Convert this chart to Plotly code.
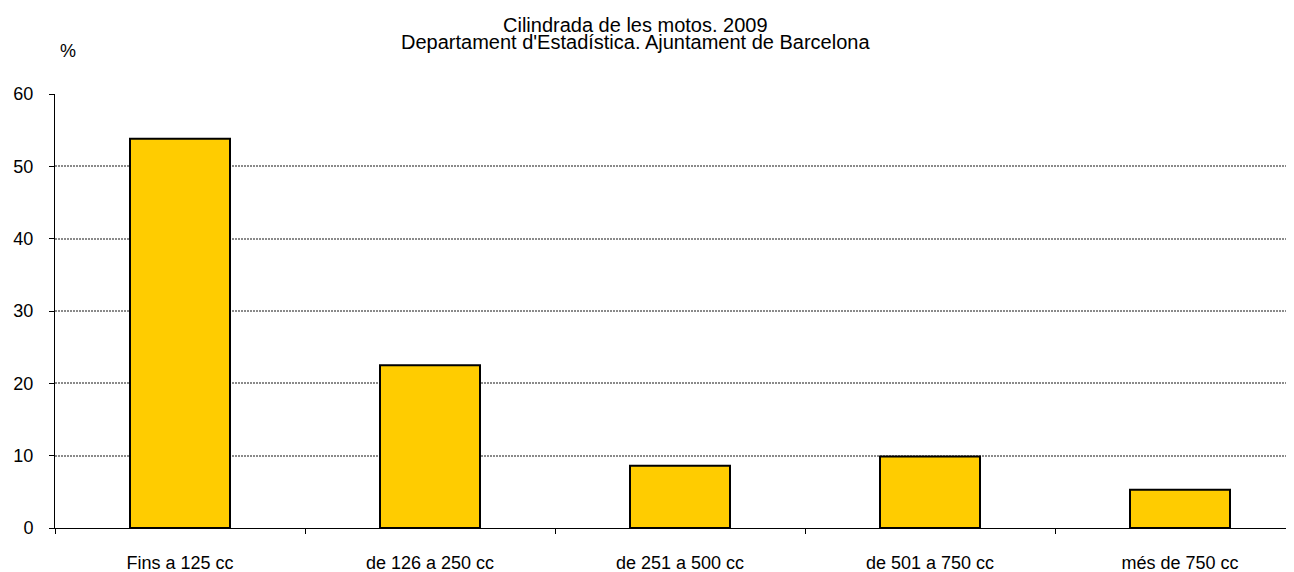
import plotly.graph_objects as go

categories = ["Fins a 125 cc", "de 126 a 250 cc", "de 251 a 500 cc", "de 501 a 750 cc", "més de 750 cc"]
percent = [53.8, 22.5, 8.6, 9.9, 5.3]
y_ticks = [0, 10, 20, 30, 40, 50, 60]

title_line1 = "Cilindrada de les motos. 2009"
title_line2 = "Departament d'Estadística. Ajuntament de Barcelona"
unit_label = "%"

# page has an 8px body margin, so the figure is shrunk by 8px
W, H = 1286, 564
ML, MT, MB = 47, 86, 44
PW, PH = W - ML, H - MT - MB


def px_to_paper(x, y):
    # page pixel -> paper coords
    return (x - 8 - ML) / PW, (H - MB - (y - 8)) / PH


fig = go.Figure()
fig.add_trace(go.Bar(
    x=categories,
    y=percent,
    width=0.4,
    marker=dict(color="#FFCC00", line=dict(color="black", width=2)),
))

font = "Liberation Sans, Arial, sans-serif"
annotations = []
for text, (px, py), size in [
    (title_line1, (635, 25), 20),
    (title_line2, (635, 42), 20),
    (unit_label, (67.5, 51), 18),
]:
    ax, ay = px_to_paper(px, py)
    annotations.append(dict(
        text=text, x=ax, y=ay, xref="paper", yref="paper",
        xanchor="center", yanchor="middle", showarrow=False,
        font=dict(size=size, color="black"),
    ))

fig.update_layout(
    width=W,
    height=H,
    plot_bgcolor="white",
    paper_bgcolor="white",
    margin=dict(l=ML, r=0, t=MT, b=MB),
    showlegend=False,
    font=dict(family=font, size=18, color="black"),
    xaxis=dict(
        type="category",
        range=[-0.5, -0.5 + PW / 250],
        tickson="boundaries",
        ticks="outside",
        ticklen=5,
        tickcolor="black",
        showline=True,
        linecolor="black",
        linewidth=1,
        showgrid=False,
        ticklabelstandoff=18,
        tickfont=dict(size=18),
    ),
    yaxis=dict(
        range=[0, 60],
        tickvals=y_ticks,
        ticks="outside",
        ticklen=5,
        tickcolor="black",
        showline=True,
        linecolor="black",
        linewidth=1,
        showgrid=True,
        gridcolor="#8a8a8a",
        griddash="2px,1px",
        gridwidth=1.5,
        zeroline=False,
        tickfont=dict(size=18),
        ticklabelstandoff=12,
    ),
    annotations=annotations,
)

fig.write_html("out.html")
